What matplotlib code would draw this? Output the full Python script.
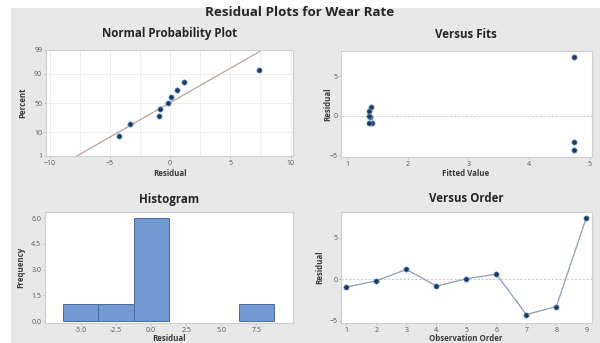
import numpy as np
import matplotlib
matplotlib.use('Agg')
import matplotlib.pyplot as plt
from matplotlib.patches import Rectangle
from statistics import NormalDist

# data
order = [1, 2, 3, 4, 5, 6, 7, 8, 9]
residuals = [-0.96, -0.2, 1.16, -0.84, 0.04, 0.6, -4.28, -3.32, 7.4]
fitted = [1.41, 1.38, 1.40, 1.36, 1.36, 1.36, 4.75, 4.75, 4.75]
percent = [7.4, 18.1, 28.7, 39.4, 50.0, 60.6, 71.3, 81.9, 92.6]
prob_ticks = [1, 10, 50, 90, 99]
hist_edges = [-6.25, -3.75, -1.25, 1.25, 3.75, 6.25, 8.75]

W, H = 600, 343
BG = '#e8e8e8'
DOT_FACE = '#1d3a5c'
DOT_EDGE = '#6fa3d6'
FONT = 'Open Sans'

plt.rcParams['font.family'] = [FONT, 'DejaVu Sans']

nd = NormalDist()


def z(p):
    return nd.inv_cdf(p / 100.0)


def box(l, t, r, b):
    return [l / W, (H - b) / H, (r - l) / W, (b - t) / H]


def ftext(x, y, s, **kw):
    fig.text(x / W, 1 - y / H, s, ha='center', va='center', **kw)


def style(ax):
    ax.set_facecolor('white')
    for s in ax.spines.values():
        s.set_color('#cfcfcf')
        s.set_linewidth(0.8)
    ax.tick_params(labelsize=5, pad=1.2, length=1.5, width=0.5,
                   color='#aaaaaa', labelcolor='#555555')


fig = plt.figure(figsize=(W / 100, H / 100), dpi=100, facecolor=BG)
# white strip on top and left, like the screenshot
fig.patches.append(Rectangle((0, 1 - 8 / H), 1, 8 / H, transform=fig.transFigure,
                             facecolor='white', edgecolor='none', zorder=-1))
fig.patches.append(Rectangle((0, 0), 11 / W, 1, transform=fig.transFigure,
                             facecolor='white', edgecolor='none', zorder=-1))

title_kw = dict(fontsize=8.3, fontweight='bold', color='#262626')
label_kw = dict(fontsize=5.7, fontweight='bold', color='#3a3a3a')

ftext(300, 12, 'Residual Plots for Wear Rate', fontsize=9.6, fontweight='bold', color='#262626')

# Normal probability plot
ax1 = fig.add_axes(box(46, 50, 293, 156))
style(ax1)
res_sorted = np.sort(residuals)
zs = [z(p) for p in percent]
mu = np.mean(residuals)
sd = np.std(residuals, ddof=1)
ylo, yhi = z(1), z(99)
ax1.plot([mu + sd * ylo, mu + sd * yhi], [ylo, yhi], color='#b9a39c', lw=0.9, zorder=2)
ax1.plot(res_sorted, zs, 'o', ms=3.8, mfc=DOT_FACE, mec=DOT_EDGE, mew=0.5, zorder=3)
ax1.set_xlim(-10.3, 10.2)
ax1.set_ylim(ylo, yhi)
ax1.set_xticks([-10, -5, 0, 5, 10])
ax1.set_xticks([-7.5, -2.5, 2.5, 7.5], minor=True)
ax1.set_yticks([z(p) for p in prob_ticks])
ax1.set_yticklabels([str(p) for p in prob_ticks])
ax1.tick_params(which='minor', length=0)
ax1.grid(True, which='both', color='#eeeeee', lw=0.7, zorder=0)
ax1.set_axisbelow(True)
ftext(170, 34, 'Normal Probability Plot', **title_kw)
ftext(170, 173, 'Residual', **label_kw)
ftext(23, 103, 'Percent', rotation=90, **label_kw)

# Versus fits
ax2 = fig.add_axes(box(341, 51, 592, 157))
style(ax2)
ax2.axhline(0, color='#cccccc', lw=0.8, ls=(0, (2, 1.5)), zorder=1)
ax2.plot(fitted, residuals, 'o', ms=3.8, mfc=DOT_FACE, mec=DOT_EDGE, mew=0.5, zorder=3)
ax2.set_xlim(0.9, 5.04)
ax2.set_ylim(-5.2, 8.2)
ax2.set_xticks([1, 2, 3, 4, 5])
ax2.set_yticks([-5, 0, 5])
ftext(466, 35, 'Versus Fits', **title_kw)
ftext(466, 173, 'Fitted Value', **label_kw)
ftext(328, 104, 'Residual', rotation=90, **label_kw)

# Histogram
ax3 = fig.add_axes(box(45, 212, 293, 323))
style(ax3)
counts, _, bars = ax3.hist(residuals, bins=hist_edges, color='#7399d2',
                           edgecolor='#4b6b9c', lw=0.7, zorder=2)
for c, b in zip(counts, bars):
    if c == 0:
        b.set_visible(False)
ax3.set_xlim(-7.55, 10.1)
ax3.set_ylim(-0.1, 6.35)
ax3.set_xticks([-5.0, -2.5, 0.0, 2.5, 5.0, 7.5])
ax3.set_xticklabels(['-5.0', '-2.5', '0.0', '2.5', '5.0', '7.5'])
ax3.set_yticks([0.0, 1.5, 3.0, 4.5, 6.0])
ax3.set_yticklabels(['0.0', '1.5', '3.0', '4.5', '6.0'])
ftext(169, 199, 'Histogram', **title_kw)
ftext(169, 338.5, 'Residual', **label_kw)
ftext(21, 267, 'Frequency', rotation=90, **label_kw)

# Versus order
ax4 = fig.add_axes(box(341, 212, 592, 323))
style(ax4)
ax4.axhline(0, color='#cccccc', lw=0.8, ls=(0, (2, 1.5)), zorder=1)
ax4.plot(order, residuals, '-', color='#8d9db0', lw=0.9, zorder=2)
ax4.plot(order, residuals, 'o', ms=3.8, mfc=DOT_FACE, mec=DOT_EDGE, mew=0.5, zorder=3)
ax4.set_xlim(0.82, 9.19)
ax4.set_ylim(-5.3, 8.1)
ax4.set_xticks(order)
ax4.set_yticks([-5, 0, 5])
ftext(466, 199, 'Versus Order', **title_kw)
ftext(466, 338.5, 'Observation Order', **label_kw)
ftext(320, 267, 'Residual', rotation=90, **label_kw)

fig.savefig('out.png', dpi=100, facecolor=fig.get_facecolor())
